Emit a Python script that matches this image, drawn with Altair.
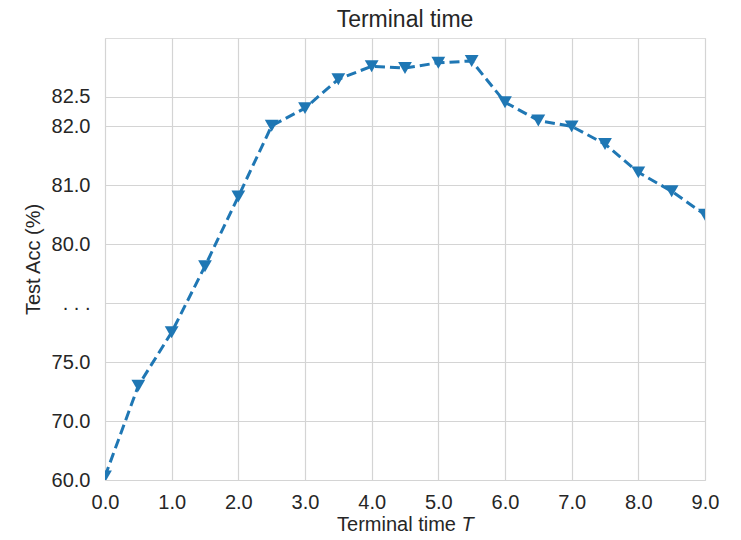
import altair as alt
import pandas as pd

# Terminal time T
t_values = [0.0, 0.5, 1.0, 1.5, 2.0, 2.5, 3.0, 3.5, 4.0, 4.5, 5.0, 5.5,
            6.0, 6.5, 7.0, 7.5, 8.0, 8.5, 9.0]
# Test accuracy (%)
acc_values = [60.6, 73.0, 76.27, 79.07, 80.81, 82.01, 82.31, 82.80, 83.02, 82.99,
              83.08, 83.11, 82.41, 82.10, 82.00, 81.70, 81.22, 80.90, 80.50]

x_ticks = [0, 1, 2, 3, 4, 5, 6, 7, 8, 9]
y_ticks = [60, 70, 75, 77.5, 80, 81, 82, 82.5]
# piecewise (broken) y axis: domain breakpoints and equal-spaced fractions
y_breaks = [60, 70, 75, 77.5, 80, 83.5]
y_steps = [0, 1, 2, 3, 4, 7.5]

title_text = ["Terminal time"]
xlabel_parts = ["Terminal time", "T"]
ylabel = "Test Acc (%)"

W, H = 600, 442
y_range = [H - s * H / 7.5 for s in y_steps]

df = pd.DataFrame({"T": t_values, "acc": acc_values})

FONT = "Liberation Sans"
TXT = "#262626"
BLUE = "#1f77b4"

x_enc = alt.X("T:Q",
              scale=alt.Scale(domain=[0, 9], nice=False, zero=False),
              axis=alt.Axis(values=x_ticks, format=".1f", title=None,
                            ticks=False, labelPadding=12, domain=False,
                            labelFlush=False,
                            labelFontSize=20, labelColor=TXT, labelFont=FONT,
                            gridColor="#d4d4d4", gridWidth=1.2))
y_enc = alt.Y("acc:Q",
              scale=alt.Scale(domain=y_breaks, range=y_range, nice=False, zero=False),
              axis=alt.Axis(values=y_ticks,
                            labelExpr="datum.value == 77.5 ? '. . .' : format(datum.value, '.1f')",
                            title=ylabel, titleFontSize=20, titleFont=FONT,
                            titleFontWeight="normal", titleColor=TXT, titlePadding=8,
                            ticks=False, labelPadding=15, domain=False,
                            labelFlush=False,
                            labelFontSize=20, labelColor=TXT, labelFont=FONT,
                            gridColor="#d4d4d4", gridWidth=1.2))

line = alt.Chart(df).mark_line(color=BLUE, strokeWidth=3, strokeDash=[10, 5],
                               clip=True).encode(x=x_enc, y=y_enc)
points = alt.Chart(df).mark_point(shape="triangle-down", filled=True, opacity=1,
                                  color=BLUE, size=190, clip=True).encode(
    x="T:Q", y="acc:Q")

title_df = pd.DataFrame({"txt": title_text})
ttl = alt.Chart(title_df).mark_text(align="center", baseline="alphabetic",
                                    fontSize=23, font=FONT, color=TXT).encode(
    x=alt.value(W / 2), y=alt.value(-11), text="txt:N")

lab_df = pd.DataFrame({"txt": [xlabel_parts[0]]})
lab_df2 = pd.DataFrame({"txt": [xlabel_parts[1]]})
xlab1 = alt.Chart(lab_df).mark_text(align="right", baseline="alphabetic",
                                    fontSize=20, font=FONT, color=TXT).encode(
    x=alt.value(351), y=alt.value(493), text="txt:N")
xlab2 = alt.Chart(lab_df2).mark_text(align="left", baseline="alphabetic",
                                     fontSize=20, font=FONT, color=TXT,
                                     fontStyle="italic").encode(
    x=alt.value(356.5), y=alt.value(493), text="txt:N")

chart = alt.layer(line, points, ttl, xlab1, xlab2).properties(
    width=W, height=H,
    autosize=alt.AutoSizeParams(type="none"),
    padding={"left": 97, "top": 30, "right": 28, "bottom": 52},
).configure_view(stroke="#cccccc", strokeWidth=1.2).configure(background="white")

chart.save("out.html", embed_options={"renderer": "svg", "actions": False})
